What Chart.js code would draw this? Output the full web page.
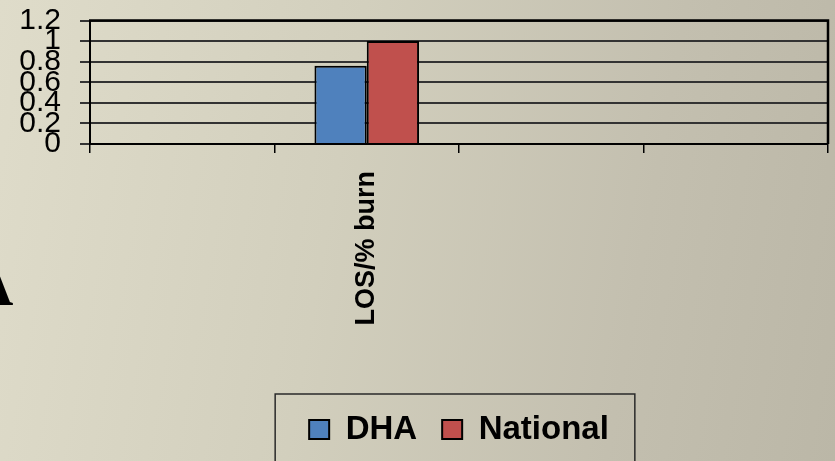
<!DOCTYPE html>
<html>
<head>
<meta charset="utf-8">
<script src="https://cdn.jsdelivr.net/npm/chart.js@4/dist/chart.umd.min.js"></script>
<style>
  html, body { margin: 0; padding: 0; }
  body {
    width: 835px; height: 461px; overflow: hidden; position: relative;
    background: linear-gradient(100deg, #dfdcca 0%, #d2cfbd 40%, #c3bfaf 75%, #bbb7a7 100%);
  }
  #c { position: absolute; left: 0; top: 0; }
  .slide-letter {
    position: absolute; left: -30px; top: 255px;
    font-family: "Liberation Serif", "DejaVu Serif", serif; font-weight: bold;
    font-size: 60px; line-height: 60px; color: #000;
  }
</style>
</head>
<body>
<div class="slide-letter">A</div>
<canvas id="c" width="835" height="461"></canvas>
<script>
// Category axis: only the second slot carries a label and bars
const categories = ['', 'LOS/% burn', '', ''];
const seriesNames = ['DHA', 'National'];
const dhaValues = [null, 0.76, null, null];
const nationalValues = [null, 1.0, null, null];
const yTickValues = [0, 0.2, 0.4, 0.6, 0.8, 1, 1.2];
const yTickLabels = ['0', '0.2', '0.4', '0.6', '0.8', '1', '1.2'];

const seriesColors = ['#4f81bd', '#c0504d'];

// Closes the plot frame on the top and right, and boxes the legend
const framePlugin = {
  id: 'frame',
  afterDraw(chart) {
    const { ctx, chartArea: a, legend } = chart;
    ctx.save();
    ctx.strokeStyle = '#000';
    ctx.lineWidth = 2.5;
    ctx.beginPath();
    ctx.moveTo(a.left - 1, a.top);
    ctx.lineTo(a.right, a.top);
    ctx.lineTo(a.right, a.bottom);
    ctx.stroke();

    const boxes = legend.legendHitBoxes;
    if (boxes && boxes.length) {
      const l = Math.min(...boxes.map(b => b.left)) - 34;
      const r = Math.max(...boxes.map(b => b.left + b.width)) + 26;
      const t = boxes[0].top - 19;
      ctx.strokeStyle = '#2a2a2a';
      ctx.lineWidth = 1.5;
      ctx.strokeRect(l, t, r - l, chart.height - t + 10);
    }
    ctx.restore();
  }
};

new Chart(document.getElementById('c'), {
  type: 'bar',
  data: {
    labels: categories,
    datasets: [
      {
        label: seriesNames[0],
        data: dhaValues,
        backgroundColor: seriesColors[0],
        borderColor: '#000',
        borderWidth: 2,
        categoryPercentage: 0.567,
        barPercentage: 1
      },
      {
        label: seriesNames[1],
        data: nationalValues,
        backgroundColor: seriesColors[1],
        borderColor: '#000',
        borderWidth: 2,
        categoryPercentage: 0.567,
        barPercentage: 1
      }
    ]
  },
  options: {
    responsive: false,
    animation: false,
    events: [],
    layout: { padding: { left: 0, right: 7, top: 20.5, bottom: 5 } },
    plugins: {
      tooltip: { enabled: false },
      legend: {
        position: 'bottom',
        fullSize: false,
        labels: {
          color: '#000',
          font: { family: 'Liberation Sans, Arial, sans-serif', size: 33, weight: 'bold' },
          boxWidth: 20,
          boxHeight: 19,
          padding: 25
        }
      }
    },
    scales: {
      x: {
        afterFit(s) { s.height = 244; },
        grid: {
          display: true,
          drawOnChartArea: false,
          drawTicks: true,
          tickLength: 9,
          color: '#000',
          lineWidth: 1.5
        },
        border: { display: true, color: '#000', width: 2 },
        ticks: {
          color: '#000',
          maxRotation: 90,
          minRotation: 90,
          autoSkip: false,
          padding: 18,
          font: { family: 'Liberation Sans, Arial, sans-serif', size: 27, weight: 'bold' }
        }
      },
      y: {
        min: 0,
        max: 1.2,
        afterFit(s) { s.width = 90; },
        afterBuildTicks(s) { s.ticks = yTickValues.map(v => ({ value: v })); },
        grid: {
          color: '#333333',
          lineWidth: 2,
          drawTicks: true,
          tickLength: 10
        },
        border: { display: true, color: '#000', width: 2 },
        ticks: {
          color: '#000',
          autoSkip: false,
          padding: 19,
          font: { family: 'Liberation Sans, Arial, sans-serif', size: 30, lineHeight: 0.05 },
          callback: (value, index) => yTickLabels[index]
        }
      }
    }
  },
  plugins: [framePlugin]
});
</script>
</body>
</html>
